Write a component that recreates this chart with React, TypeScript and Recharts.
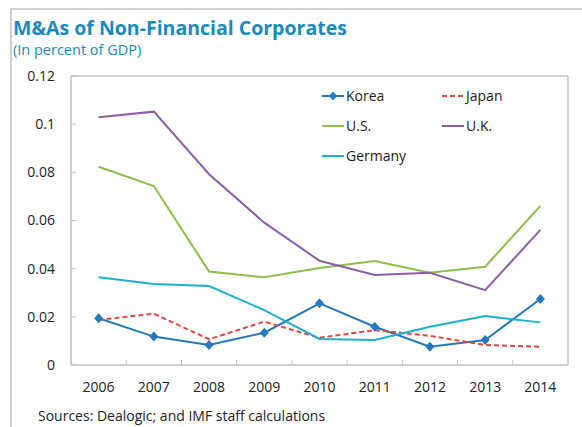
import { LineChart, Line, XAxis, YAxis, CartesianGrid, Legend } from 'recharts';

const years = ['2006', '2007', '2008', '2009', '2010', '2011', '2012', '2013', '2014'];
const korea = [0.0194, 0.0118, 0.0083, 0.0134, 0.0256, 0.0159, 0.0076, 0.0104, 0.0274];
const japan = [0.0187, 0.0213, 0.0107, 0.018, 0.0113, 0.0145, 0.0121, 0.0083, 0.0076];
const us = [0.0823, 0.0743, 0.0388, 0.0364, 0.0403, 0.0432, 0.0383, 0.0408, 0.0661];
const uk = [0.1029, 0.1052, 0.0792, 0.0591, 0.0433, 0.0374, 0.0383, 0.0311, 0.0561];
const germany = [0.0364, 0.0336, 0.0328, 0.0228, 0.0108, 0.0104, 0.0159, 0.0203, 0.0177];
const yTicks = [0, 0.02, 0.04, 0.06, 0.08, 0.1, 0.12];

const series = [
  { key: 'korea', name: 'Korea', color: '#2479be', dash: undefined, values: korea },
  { key: 'japan', name: 'Japan', color: '#e8453c', dash: '5 3', values: japan },
  { key: 'us', name: 'U.S.', color: '#8cbf4a', dash: undefined, values: us },
  { key: 'uk', name: 'U.K.', color: '#8a5ea8', dash: undefined, values: uk },
  { key: 'germany', name: 'Germany', color: '#1ab0d0', dash: undefined, values: germany },
];

const rows = years.map((year, i) => {
  const row: Record<string, any> = { year };
  series.forEach((s) => (row[s.key] = s.values[i]));
  return row;
});

const FONT = '"Open Sans", sans-serif';
const BLUE = '#1a8abd';
const FRAME = '#c0c0c0';

function Diamond(props: any) {
  const { cx, cy } = props;
  if (cx == null || cy == null) return null;
  return <polygon points={`${cx},${cy - 5} ${cx + 4.5},${cy} ${cx},${cy + 5} ${cx - 4.5},${cy}`} fill="#2479be" />;
}

// year label plus a short inward tick on the band's right edge
function XTick(props: any) {
  const { x, y, payload, index } = props;
  const half = payload.offset || 0;
  return (
    <g>
      <text x={x} y={y + 17} dy="0.71em" textAnchor="middle" fontSize={14} fill="#222" fontFamily={FONT}>
        {payload.value}
      </text>
      {index < years.length - 1 && half > 0 && (
        <line x1={x + half} x2={x + half} y1={y} y2={y - 5} stroke={FRAME} strokeWidth={1} />
      )}
    </g>
  );
}

function YTick(props: any) {
  const { x, y, payload } = props;
  return (
    <g>
      <text x={x} y={y} dy="0.355em" textAnchor="end" fontSize={14} fill="#222" fontFamily={FONT}>
        {String(Number(payload.value.toFixed(2)))}
      </text>
      <line x1={x + 16} x2={x + 21} y1={y} y2={y} stroke={FRAME} strokeWidth={1} />
    </g>
  );
}

function LegendBox() {
  return (
    <div style={{ display: 'grid', gridTemplateColumns: '120px 120px', rowGap: 11, fontFamily: FONT, fontSize: 14, color: '#222' }}>
      {series.map((s) => (
        <div key={s.key} style={{ display: 'flex', alignItems: 'center', height: 19 }}>
          <svg width={22} height={12} style={{ marginRight: 2 }}>
            <line x1={0} x2={22} y1={6} y2={6} stroke={s.color} strokeWidth={2} strokeDasharray={s.dash} />
            {s.key === 'korea' && <polygon points="11,1.5 15,6 11,10.5 7,6" fill={s.color} />}
          </svg>
          <span>{s.name}</span>
        </div>
      ))}
    </div>
  );
}

export default function App() {
  return (
    <div style={{ position: 'relative', width: 582, height: 427, background: '#fff', overflow: 'hidden' }}>
      <style>{`body{margin:0}`}</style>
      <div style={{ position: 'absolute', left: 10, top: 8, width: 600, height: 440, borderTop: '2px solid #cfcfcf', borderLeft: '2px solid #cfcfcf' }} />
      <div style={{ position: 'absolute', left: 13, top: 14, fontFamily: FONT, fontWeight: 700, fontSize: 19.5, color: BLUE, whiteSpace: 'nowrap' }}>
        M&amp;As of Non-Financial Corporates
      </div>
      <div style={{ position: 'absolute', left: 13, top: 40, fontFamily: FONT, fontSize: 14.5, color: BLUE, whiteSpace: 'nowrap' }}>
        (In percent of GDP)
      </div>
      <div style={{ position: 'absolute', left: 38, top: 406, fontFamily: FONT, fontSize: 14, color: '#222', whiteSpace: 'nowrap' }}>
        Sources: Dealogic; and IMF staff calculations
      </div>
      <div style={{ position: 'absolute', left: 0, top: 0 }}>
        <LineChart width={582} height={427} data={rows} margin={{ top: 76, right: 14, bottom: 32, left: 0 }}>
          <CartesianGrid
            stroke={FRAME}
            strokeWidth={1.5}
            horizontalCoordinatesGenerator={({ offset }: any) => [offset.top, offset.top + offset.height]}
            verticalCoordinatesGenerator={({ offset }: any) => [offset.left, offset.left + offset.width]}
          />
          <XAxis
            dataKey="year"
            scale="band"
            height={30}
            interval={0}
            axisLine={false}
            tickLine={false}
            tickSize={0}
            tickMargin={0}
            tick={<XTick />}
          />
          <YAxis
            domain={[0, 0.12]}
            ticks={yTicks}
            width={71}
            axisLine={false}
            tickLine={false}
            tickSize={0}
            tickMargin={16}
            tick={<YTick />}
          />
          <Legend
            layout="vertical"
            align="center"
            verticalAlign="middle"
            wrapperStyle={{ top: 86, left: 322, width: 250 }}
            content={() => <LegendBox />}
          />
          {series.map((s) => (
            <Line
              key={s.key}
              dataKey={s.key}
              name={s.name}
              stroke={s.color}
              strokeWidth={2}
              strokeDasharray={s.dash}
              dot={s.key === 'korea' ? <Diamond /> : false}
              activeDot={false}
              isAnimationActive={false}
            />
          ))}
        </LineChart>
      </div>
    </div>
  );
}
